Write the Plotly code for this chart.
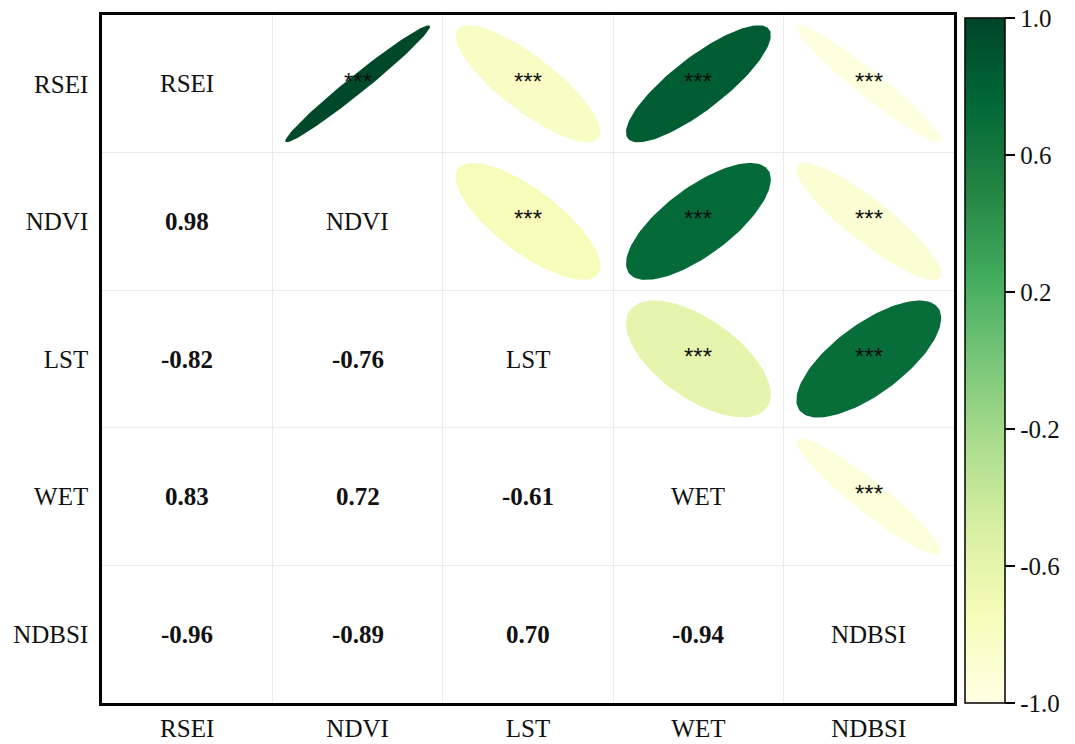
import numpy as np
import plotly.graph_objects as go
from plotly.colors import sample_colorscale

# Variables and their pairwise Pearson correlations (lower triangle, row-major)
variables = ["RSEI", "NDVI", "LST", "WET", "NDBSI"]
corr_rows = [
    [1.00],
    [0.98, 1.00],
    [-0.82, -0.76, 1.00],
    [0.83, 0.72, -0.61, 1.00],
    [-0.96, -0.89, 0.70, -0.94, 1.00],
]
significance = "***"
cbar_ticks = [-1.0, -0.6, -0.2, 0.2, 0.6, 1.0]

n = len(variables)
corr = np.eye(n)
for i, row in enumerate(corr_rows):
    for j, v in enumerate(row):
        corr[i, j] = v
        corr[j, i] = v

SERIF = "Liberation Serif"
colorscale = "YlGn"


def corr_color(r):
    return sample_colorscale(colorscale, [(r + 1) / 2])[0]


def ellipse(r, scale=0.85, npts=120):
    # corrplot-style ellipse: width shrinks as |r| approaches 1
    k = np.linspace(0, 2 * np.pi, npts)
    d = np.arccos(np.clip(r, -1, 1))
    ex = np.cos(k + d / 2) / 2 * scale
    ey = np.cos(k - d / 2) / 2 * scale
    return ex, ey


fig = go.Figure()

# Upper triangle: filled ellipses with significance marks
for i in range(n):
    for j in range(n):
        if j <= i:
            continue
        r = corr[i, j]
        ex, ey = ellipse(r)
        cx, cy = j + 1, i + 1
        fig.add_trace(go.Scatter(
            x=cx + ex, y=cy - ey, mode="lines", fill="toself",
            fillcolor=corr_color(r), line=dict(width=0, color=corr_color(r)),
            hoverinfo="skip", showlegend=False,
        ))

annotations = []
for i in range(n):
    for j in range(n):
        cx, cy = j + 1, i + 1
        if i == j:
            annotations.append(dict(x=cx, y=cy, text=variables[i], showarrow=False,
                                    font=dict(family=SERIF, size=25, color="#111")))
        elif j < i:
            annotations.append(dict(x=cx, y=cy, text=f"<b>{corr[i, j]:.2f}</b>", showarrow=False,
                                    font=dict(family=SERIF, size=25, color="#111")))
        else:
            annotations.append(dict(x=cx, y=cy - 0.02, text=significance, showarrow=False,
                                    font=dict(family="Liberation Sans", size=24, color="#111")))

# Colour bar carrier
fig.add_trace(go.Scatter(
    x=[None], y=[None], mode="markers", hoverinfo="skip", showlegend=False,
    marker=dict(color=[-1, 1], cmin=-1, cmax=1, colorscale=colorscale, showscale=True,
                colorbar=dict(
                    x=1.013, xanchor="left", y=0.498, yanchor="middle",
                    len=0.996, lenmode="fraction", thickness=40, thicknessmode="pixels",
                    xpad=0, ypad=0, outlinewidth=1.5, outlinecolor="black",
                    tickvals=cbar_ticks, ticktext=[f"{t:.1f}" for t in cbar_ticks],
                    ticks="outside", ticklen=10, tickwidth=1.5, tickcolor="black",
                    tickfont=dict(family=SERIF, size=25, color="#111"),
                )),
))

axis_common = dict(
    showline=True, linewidth=2.5, linecolor="black", mirror=True,
    showgrid=False, zeroline=False, automargin=False,
    tickmode="array", tickvals=list(range(1, n + 1)), ticktext=variables,
    ticks="outside", tickcolor="rgba(0,0,0,0)",
    tickfont=dict(family=SERIF, size=25, color="#111"),
    minor=dict(tick0=0.5, dtick=1, showgrid=True, gridcolor="#ebebeb", gridwidth=1, ticks=""),
    fixedrange=True,
)

fig.update_layout(
    width=1075, height=744,
    margin=dict(l=102, r=121, t=15, b=41, autoexpand=False),
    paper_bgcolor="white", plot_bgcolor="white",
    xaxis=dict(range=[0.5, n + 0.5], ticklen=1, **axis_common),
    yaxis=dict(range=[n + 0.5, 0.5], ticklen=6, **axis_common),
    annotations=annotations,
)

fig.write_html("out.html")
